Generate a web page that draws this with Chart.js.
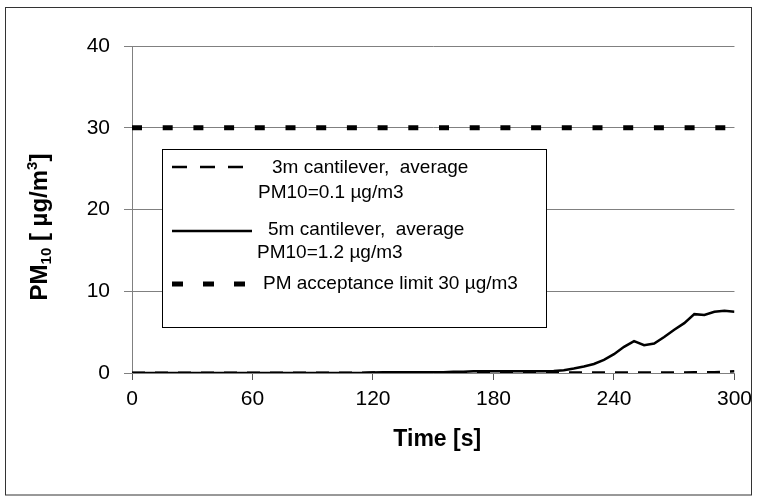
<!DOCTYPE html>
<html>
<head>
<meta charset="utf-8">
<script src="https://cdn.jsdelivr.net/npm/chart.js@4"></script>
<style>
  html, body { margin: 0; padding: 0; background: #fff; }
  #wrap { width: 759px; height: 496px; position: relative; }
</style>
</head>
<body>
<div id="wrap"><canvas id="pmChart" width="759" height="496"></canvas></div>
<script>
// time axis (s)
const timeS = [0, 5, 10, 15, 20, 25, 30, 35, 40, 45, 50, 55, 60, 65, 70, 75, 80, 85, 90, 95,
  100, 105, 110, 115, 120, 125, 130, 135, 140, 145, 150, 155, 160, 165, 170, 175, 180, 185, 190, 195,
  200, 205, 210, 215, 220, 225, 230, 235, 240, 245, 250, 255, 260, 265, 270, 275, 280, 285, 290, 295, 300];

// 3m cantilever PM10 (µg/m3)
const pm3m = [0.02, 0.02, 0.02, 0.02, 0.02, 0.02, 0.02, 0.02, 0.02, 0.02, 0.02, 0.02, 0.02, 0.02, 0.02, 0.02, 0.02, 0.02, 0.02, 0.02,
  0.02, 0.02, 0.02, 0.02, 0.05, 0.05, 0.05, 0.05, 0.05, 0.05, 0.05, 0.05, 0.05, 0.05, 0.05, 0.05, 0.05, 0.05, 0.05, 0.05,
  0.05, 0.05, 0.05, 0.05, 0.05, 0.05, 0.05, 0.05, 0.05, 0.05, 0.05, 0.05, 0.05, 0.05, 0.05, 0.05, 0.1, 0.1, 0.1, 0.15, 0.2];

// 5m cantilever PM10 (µg/m3)
const pm5m = [0, 0, 0, 0, 0, 0, 0, 0, 0, 0, 0, 0, 0, 0, 0, 0, 0, 0, 0, 0,
  0, 0, 0, 0, 0.05, 0.1, 0.1, 0.1, 0.1, 0.1, 0.1, 0.1, 0.15, 0.15, 0.2, 0.2, 0.2, 0.2, 0.2, 0.2,
  0.2, 0.2, 0.25, 0.35, 0.55, 0.8, 1.1, 1.6, 2.3, 3.2, 3.9, 3.4, 3.6, 4.4, 5.3, 6.1, 7.2, 7.1, 7.5, 7.6, 7.5];

// acceptance limit
const limitTimes = [0, 300];
const limitValue = 30;

const yTicks = [0, 10, 20, 30, 40];
const xTicks = [0, 60, 120, 180, 240, 300];

const legendLines = [
  ["3m cantilever,  average", "PM10=0.1 µg/m3"],
  ["5m cantilever,  average", "PM10=1.2 µg/m3"],
  ["PM acceptance limit 30 µg/m3"]
];

const FONT = "'Liberation Sans', Arial, sans-serif";
Chart.defaults.font.family = FONT;
Chart.defaults.color = "#000";

const toXY = (xs, ys) => xs.map((x, i) => ({ x: x, y: ys[i] }));

// frame, axis titles and the boxed legend
const extras = {
  id: "extras",
  beforeDraw(chart) {
    const ctx = chart.ctx;
    ctx.save();
    ctx.fillStyle = "#fff";
    ctx.fillRect(0, 0, chart.width, chart.height);
    ctx.restore();
  },
  afterDraw(chart) {
    const ctx = chart.ctx;
    const area = chart.chartArea;
    ctx.save();

    // outer frame
    ctx.strokeStyle = "#333";
    ctx.lineWidth = 1;
    ctx.strokeRect(5.5, 7.5, 746, 487.5);

    // x title
    ctx.fillStyle = "#000";
    ctx.font = "bold 23px " + FONT;
    ctx.textAlign = "center";
    ctx.textBaseline = "middle";
    ctx.fillText("Time [s]", (area.left + area.right) / 2 + 4, 440);

    // y title with sub/superscript
    const parts = [
      { t: "PM", f: "bold 24px " + FONT, dy: 0 },
      { t: "10", f: "bold 15px " + FONT, dy: 4 },
      { t: " [ µg/m", f: "bold 24px " + FONT, dy: 0 },
      { t: "3", f: "bold 15px " + FONT, dy: -10 },
      { t: "]", f: "bold 24px " + FONT, dy: 0 }
    ];
    let total = 0;
    parts.forEach(p => { ctx.font = p.f; p.w = ctx.measureText(p.t).width; total += p.w; });
    ctx.translate(47, 227);
    ctx.rotate(-Math.PI / 2);
    ctx.textAlign = "left";
    ctx.textBaseline = "alphabetic";
    let px = -total / 2;
    parts.forEach(p => { ctx.font = p.f; ctx.fillText(p.t, px, p.dy); px += p.w; });
    ctx.setTransform(1, 0, 0, 1, 0, 0);

    // legend box
    ctx.fillStyle = "#fff";
    ctx.fillRect(162, 149, 384, 178);
    ctx.strokeStyle = "#000";
    ctx.lineWidth = 1;
    ctx.strokeRect(162.5, 149.5, 384, 178);

    const rows = [
      { y: 167, text: [[272, 168], [258, 193]] },
      { y: 231, text: [[268, 230], [257, 253]] },
      { y: 284, text: [[263, 284]] }
    ];
    ctx.font = "19px " + FONT;
    ctx.textBaseline = "middle";
    ctx.textAlign = "left";
    chart.data.datasets.forEach((ds, i) => {
      const r = rows[i];
      ctx.strokeStyle = ds.borderColor;
      ctx.lineWidth = ds.borderWidth;
      ctx.lineCap = "butt";
      ctx.setLineDash(ds.legendDash || []);
      ctx.beginPath();
      ctx.moveTo(172, r.y);
      ctx.lineTo(252, r.y);
      ctx.stroke();
      ctx.setLineDash([]);
      ctx.fillStyle = "#000";
      legendLines[i].forEach((s, j) => ctx.fillText(s, r.text[j][0], r.text[j][1]));
    });
    ctx.restore();
  }
};

const ctx = document.getElementById("pmChart").getContext("2d");
new Chart(ctx, {
  type: "line",
  data: {
    datasets: [
      {
        label: "3m cantilever",
        data: toXY(timeS, pm3m),
        borderColor: "#000",
        borderWidth: 2.5,
        borderDash: [13, 10],
        legendDash: [15, 13],
        pointRadius: 0,
        fill: false
      },
      {
        label: "5m cantilever",
        data: toXY(timeS, pm5m),
        borderColor: "#000",
        borderWidth: 2.5,
        pointRadius: 0,
        fill: false
      },
      {
        label: "PM acceptance limit",
        data: limitTimes.map(t => ({ x: t, y: limitValue })),
        borderColor: "#000",
        borderWidth: 5,
        borderDash: [10, 20.7],
        borderCapStyle: "butt",
        legendDash: [11, 20],
        pointRadius: 0,
        fill: false
      }
    ]
  },
  options: {
    responsive: false,
    animation: false,
    layout: { padding: { left: 0, top: 46, right: 24, bottom: 0 } },
    plugins: {
      legend: { display: false },
      tooltip: { enabled: false }
    },
    scales: {
      x: {
        type: "linear",
        min: 0,
        max: 300,
        afterFit: s => { s.height = 123; },
        afterBuildTicks: s => { s.ticks = xTicks.map(v => ({ value: v })); },
        grid: { drawOnChartArea: false, drawTicks: true, tickLength: 7, color: "#555" },
        border: { color: "#808080" },
        ticks: { font: { size: 21 }, padding: 7, maxRotation: 0 }
      },
      y: {
        min: 0,
        max: 40,
        afterFit: s => { s.width = 132; },
        afterBuildTicks: s => { s.ticks = yTicks.map(v => ({ value: v })); },
        grid: { color: "#808080", tickLength: 8 },
        border: { color: "#808080" },
        ticks: { font: { size: 21 }, padding: 14 }
      }
    }
  },
  plugins: [extras]
});
</script>
</body>
</html>
